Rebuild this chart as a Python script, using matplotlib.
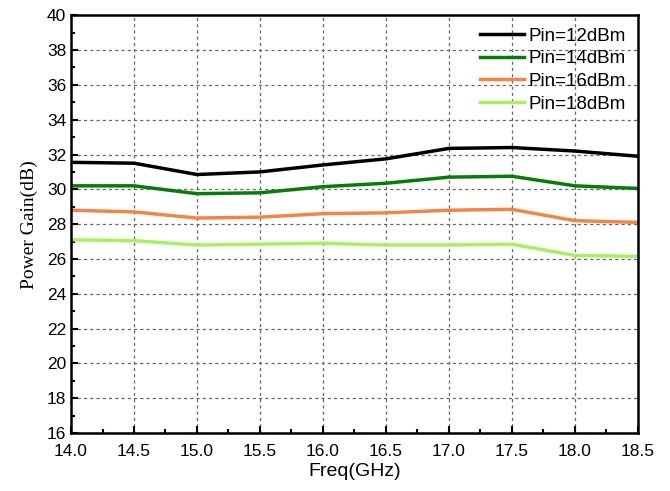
import matplotlib
matplotlib.use("Agg")
import matplotlib.pyplot as plt
from matplotlib.ticker import MultipleLocator

freq = [14.0, 14.5, 15.0, 15.5, 16.0, 16.5, 17.0, 17.5, 18.0, 18.5]
gain_12 = [31.55, 31.5, 30.85, 31.0, 31.4, 31.75, 32.35, 32.4, 32.2, 31.9]
gain_14 = [30.2, 30.2, 29.75, 29.8, 30.15, 30.35, 30.7, 30.75, 30.2, 30.05]
gain_16 = [28.8, 28.7, 28.35, 28.4, 28.6, 28.65, 28.8, 28.85, 28.2, 28.1]
gain_18 = [27.1, 27.05, 26.8, 26.85, 26.9, 26.8, 26.8, 26.85, 26.2, 26.15]

series = [
    ("Pin=12dBm", gain_12, "#000000"),
    ("Pin=14dBm", gain_14, "#0a7a0a"),
    ("Pin=16dBm", gain_16, "#f5834a"),
    ("Pin=18dBm", gain_18, "#a8f060"),
]

plt.rcParams['font.family'] = ['Liberation Sans', 'DejaVu Sans']

fig = plt.figure(figsize=(6.7, 4.91), dpi=100)
ax = fig.add_axes([0.106, 0.118, 0.846, 0.851])

for label, vals, color in series:
    ax.plot(freq, vals, color=color, lw=2.5, label=label)

ax.set_xlim(14.0, 18.5)
ax.set_ylim(16, 40)
ax.xaxis.set_major_locator(MultipleLocator(0.5))
ax.xaxis.set_minor_locator(MultipleLocator(0.25))
ax.yaxis.set_major_locator(MultipleLocator(2))
ax.yaxis.set_minor_locator(MultipleLocator(1))
ax.xaxis.set_major_formatter(matplotlib.ticker.FormatStrFormatter('%.1f'))

ax.grid(True, which='major', color='#666666', ls=(0, (2.5, 2.5)), lw=0.9)
ax.tick_params(which='both', direction='in', top=False, right=False, labelsize=12.5)
ax.tick_params(axis='x', pad=8)
ax.tick_params(which='major', length=5, width=1.5)
ax.tick_params(which='minor', length=3, width=1.5)
for sp in ax.spines.values():
    sp.set_linewidth(1.8)

ax.set_xlabel("Freq(GHz)", fontsize=14, labelpad=3)
ax.set_ylabel("Power Gain(dB)", fontsize=14, family=['Liberation Serif'], labelpad=6)

leg = ax.legend(loc='upper right', frameon=False, fontsize=13.5, handlelength=2.3,
                handletextpad=0.25, labelspacing=0.3, borderaxespad=0.25)

fig.savefig("out.png", dpi=100)
